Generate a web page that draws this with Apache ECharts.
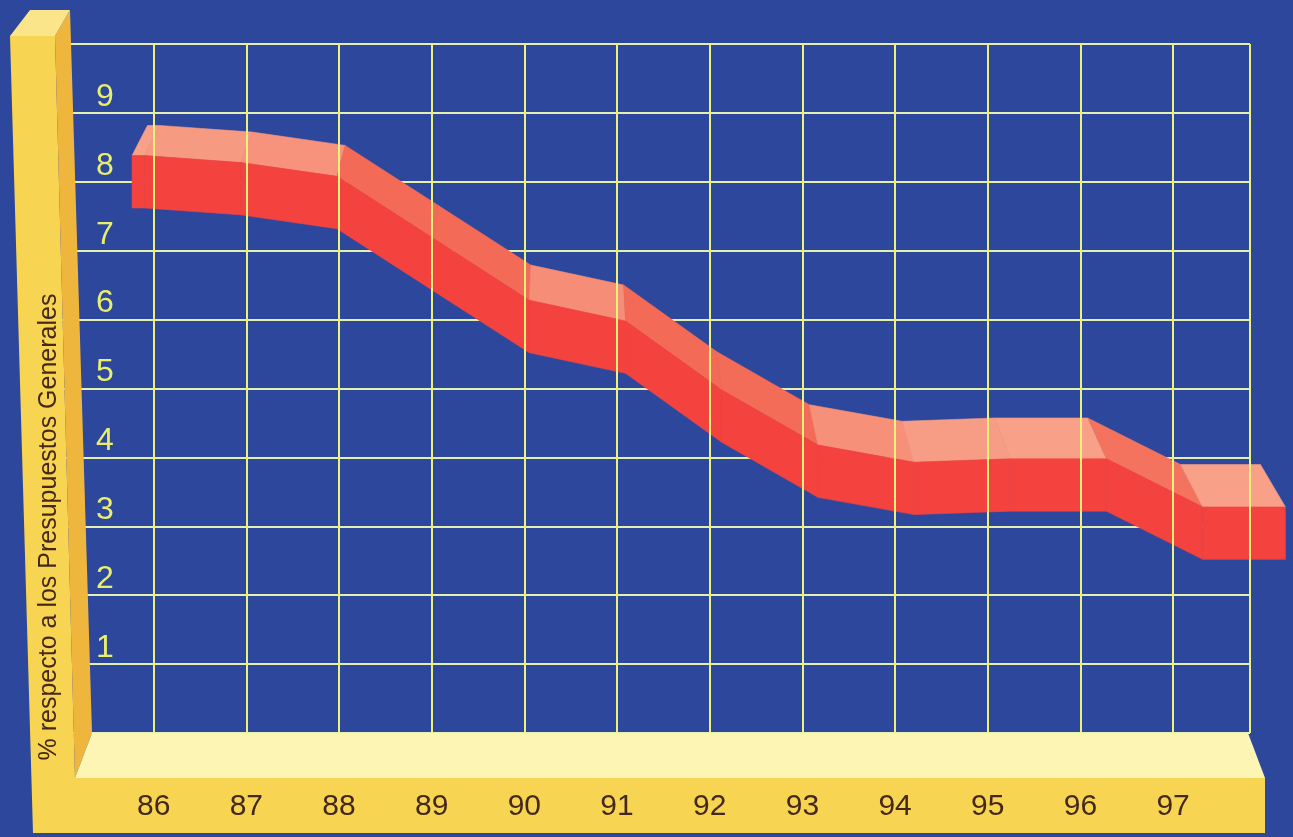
<!DOCTYPE html>
<html>
<head>
<meta charset="utf-8">
<script src="https://cdn.jsdelivr.net/npm/echarts@6/dist/echarts.min.js"></script>
<style>
html, body { margin: 0; padding: 0; background: #2d479d; }
#chart { width: 1293px; height: 837px; }
</style>
</head>
<body>
<div id="chart"></div>
<script>
// años (eje X) y % respecto a los presupuestos generales
var years = [86, 87, 88, 89, 90, 91, 92, 93, 94, 95, 96, 97];
var values = [8.0, 7.9, 7.7, 6.8, 5.9, 5.6, 4.6, 3.8, 3.55, 3.6, 3.6, 2.9];
var yTicks = [1, 2, 3, 4, 5, 6, 7, 8, 9];
var axisTitle = '% respecto a los Presupuestos Generales';

var THICK = 0.76;          // grosor de la cinta, en unidades del eje Y
var FRONT = '#f4433f';
var FONT = 'Liberation Sans';
var NARROW = "'Liberation Sans Narrow', 'Liberation Sans'";

function topColor(t) {
    var a = [248, 160, 136], b = [243, 106, 86];
    var c = a.map(function (v, k) { return Math.round(v + (b[k] - v) * t); });
    return 'rgb(' + c.join(',') + ')';
}

function ribbon(params, api) {
    var i = params.dataIndex;
    var cs = params.coordSys;
    var h = api.size([0, THICK])[1];
    var unit = api.size([1, 0])[0];
    var p = api.coord([years[i], values[i]]);
    var q = i < years.length - 1 ? api.coord([years[i + 1], values[i + 1]]) : [p[0] + unit * 0.86, p[1]];
    // la cinta está más cerca que la rejilla: algo más ancha
    var cx = cs.x + cs.width * 0.28, S = 1.038;
    function fwd(pt) { return [cx + S * (pt[0] - cx), pt[1]]; }
    var vx = cs.x + cs.width * 0.43, vy = cs.y - 750;
    function back(pt) { return [pt[0] + 0.035 * (vx - pt[0]), pt[1] + 0.035 * (vy - pt[1])]; }

    var segs = [[p, q]];
    if (i === 0) segs.unshift([[p[0] - unit * 0.13, p[1]], p]);
    var children = [];
    segs.forEach(function (s) {
        var a = fwd(s[0]), b = fwd(s[1]);
        var at = [a[0], a[1] - h / 2], bt = [b[0], b[1] - h / 2];
        var ab = [a[0], a[1] + h / 2], bb = [b[0], b[1] + h / 2];
        var t = Math.min(1, Math.abs(bt[1] - at[1]) / (bt[0] - at[0]) / 0.6);
        var tc = topColor(t);
        children.push({
            type: 'polygon', z2: 1,
            shape: { points: [at, bt, back(bt), back(at)] },
            style: { fill: tc, stroke: tc, lineWidth: 0.6 }
        });
        children.push({
            type: 'polygon', z2: 5,
            shape: { points: [at, bt, bb, ab] },
            style: { fill: FRONT, stroke: FRONT, lineWidth: 0.6 }
        });
    });
    return { type: 'group', children: children };
}

var myChart = echarts.init(document.getElementById('chart'));

var option = {
    backgroundColor: '#2d479d',
    animation: false,
    grid: { left: 61, right: 43, top: 44, bottom: 104 },
    xAxis: {
        type: 'value',
        min: 85,
        max: 97.83,
        interval: 1,
        z: 20,
        axisLine: { show: false },
        axisTick: { show: false },
        splitLine: { showMinLine: false, lineStyle: { color: '#ebf27c', width: 2 } },
        axisLabel: {
            margin: 59,
            color: '#44291a',
            fontFamily: NARROW,
            fontSize: 30,
            formatter: function (v) { return years.indexOf(v) >= 0 ? String(v) : ''; }
        }
    },
    yAxis: {
        type: 'value',
        min: 0,
        max: 10,
        interval: 1,
        axisLine: { show: false },
        axisTick: { show: false },
        splitLine: { lineStyle: { color: '#e4efb0', width: 2 } },
        axisLabel: {
            inside: true,
            margin: 35,
            color: '#e8ef6c',
            fontFamily: NARROW,
            fontSize: 32,
            verticalAlign: 'bottom',
            formatter: function (v) { return yTicks.indexOf(v) >= 0 ? String(v) : ''; }
        }
    },
    graphic: [
        // marco amarillo: barra vertical y barra inferior
        { type: 'polygon', z: 10, shape: { points: [[10, 36], [55, 36], [75, 778], [1265, 778], [1265, 833], [33, 833]] }, style: { fill: '#f7d552' } },
        { type: 'polygon', z: 10, shape: { points: [[55, 36], [70, 10], [92, 733], [75, 778]] }, style: { fill: '#efb63e' } },
        { type: 'polygon', z: 10, shape: { points: [[10, 36], [30, 10], [70, 10], [55, 36]] }, style: { fill: '#fae58a' } },
        { type: 'polygon', z: 10, shape: { points: [[92, 733], [1248, 733], [1265, 778], [75, 778]] }, style: { fill: '#fdf5b4' } },
        {
            type: 'text', z: 11, x: 49, y: 527, rotation: Math.PI / 2,
            style: {
                text: axisTitle, fill: '#44291a', font: '25px ' + FONT,
                align: 'center', verticalAlign: 'middle',
                textAlign: 'center', textVerticalAlign: 'middle'
            }
        }
    ],
    series: [{
        type: 'custom',
        renderItem: ribbon,
        encode: { x: 0, y: 1 },
        data: years.map(function (y, i) { return [y, values[i]]; })
    }]
};

myChart.setOption(option, true);
</script>
</body>
</html>
